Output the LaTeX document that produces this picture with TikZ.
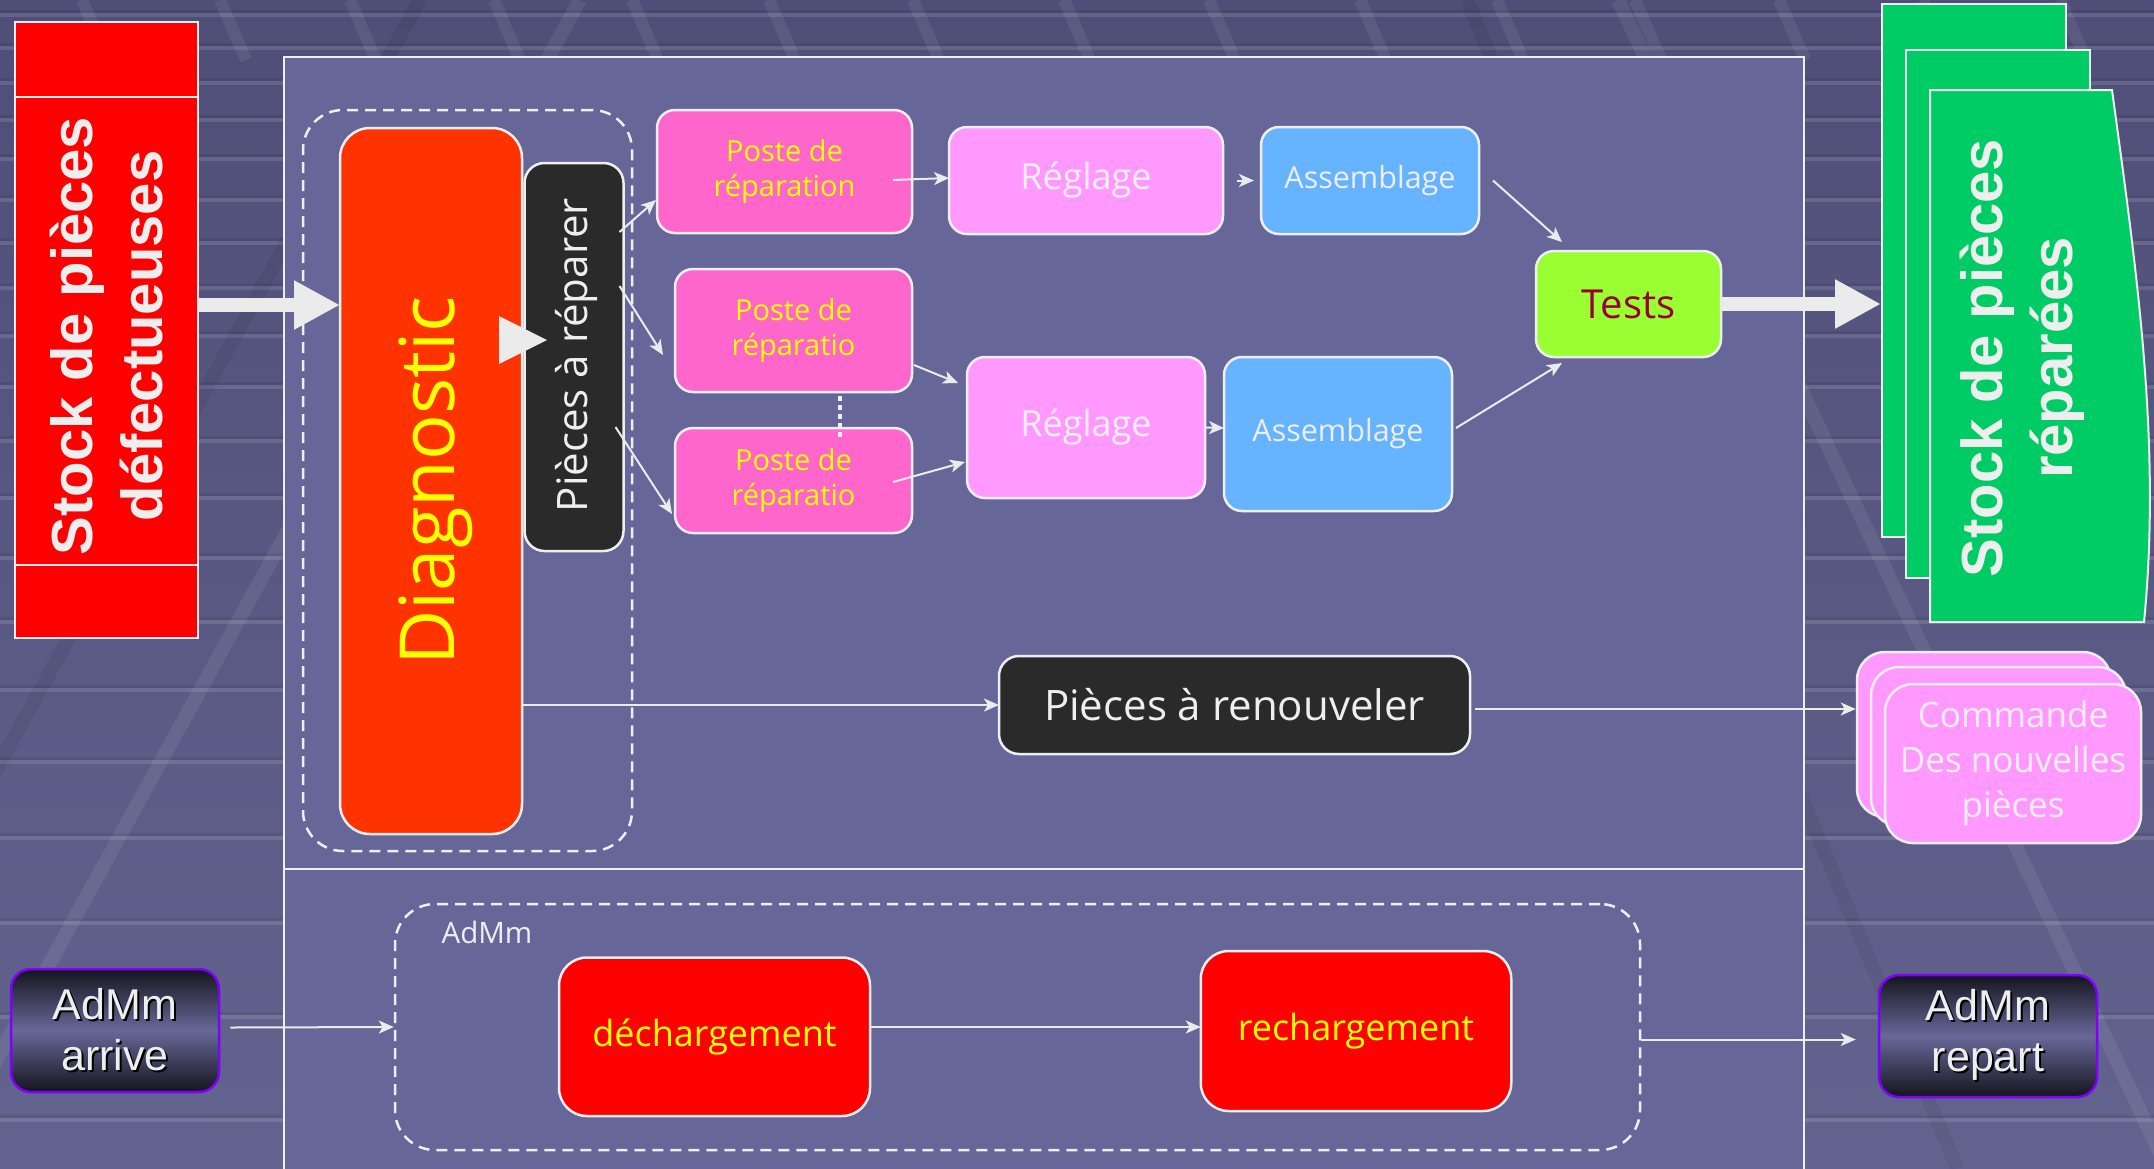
\documentclass[tikz,border=0pt]{standalone}
\usepackage{fontspec}
\setmainfont{Open Sans}
\newfontfamily\arialfont{Liberation Sans}
\usetikzlibrary{arrows.meta,calc}

\definecolor{bgtop}{HTML}{4E4E78}
\definecolor{bgbot}{HTML}{63638F}
\definecolor{panelc}{HTML}{666699}
\definecolor{edge}{HTML}{EEEEEE}
\definecolor{arrowc}{HTML}{EBEBEB}
\definecolor{stockred}{HTML}{FF0000}
\definecolor{diagc}{HTML}{FF3300}
\definecolor{postec}{HTML}{FF66CC}
\definecolor{reglc}{HTML}{FF99FF}
\definecolor{assc}{HTML}{66B3FF}
\definecolor{testc}{HTML}{99FF33}
\definecolor{testtxt}{HTML}{990033}
\definecolor{greenc}{HTML}{00CC66}
\definecolor{darkc}{HTML}{2A2A2A}
\definecolor{yellowc}{HTML}{FFFF00}
\definecolor{admmedge}{HTML}{8000FF}
\definecolor{admmdark}{HTML}{14141E}
\definecolor{admmmid}{HTML}{686899}

\newcommand{\fsz}[2]{\fontsize{#1pt}{#2pt}\selectfont}

\begin{document}
\begin{tikzpicture}[x=1pt, y=-1pt,
  box/.style={draw=edge, line width=2.5pt, inner sep=0pt, outer sep=0pt,
              align=center, rounded corners=#1},
  box/.default=18pt,
  grp/.style={draw=edge, line width=2.5pt, dash pattern=on 11pt off 7pt,
              rounded corners=40pt, inner sep=0pt},
  conn/.style={draw=arrowc, line width=2pt,
               -{Stealth[length=15pt,width=13pt,inset=4pt]}},
  bigarrow/.style={draw=arrowc, line width=14pt,
                   -{Triangle[length=46pt,width=46pt]}},
  page/.style={draw=edge, line width=2pt, fill=greenc, inner sep=0pt},
  cmd/.style={draw=edge, line width=2.5pt, fill=reglc, rounded corners=28pt, inner sep=0pt},
  admm/.style={draw=admmedge, line width=2.5pt, rounded corners=20pt, inner sep=0pt,
               top color=admmdark, bottom color=admmdark, middle color=admmmid},
  admmtxt/.style={font=\arialfont\fsz{43}{51}, align=center},
]
\useasboundingbox (0,0) rectangle (2154,1168);

% ---------- textured backdrop
\shade[top color=bgtop, bottom color=bgbot] (0,0) rectangle (2154,1168);
\foreach \yy in {15,48,83,120,159,200,243,288,336,387,441,498,558,622,690,762,838,923,1017,1120}{
  \draw[black, opacity=0.08, line width=3pt] (0,\yy-4) -- (2154,\yy-4);
  \draw[white, opacity=0.12, line width=4pt] (0,\yy) -- (2154,\yy);
}
\foreach \xx in {82,220,350,494,632,769,913,1064,1209,1360,1497,1635,1779,1923,2060}{
  \draw[white, opacity=0.07, line width=12pt] (\xx,0) -- (\xx+26,60);
}
\draw[white, opacity=0.07, line width=14pt] (580,0) -- (-63,1168);
\draw[black, opacity=0.06, line width=14pt] (420,0) -- (-223,1168);
\draw[black, opacity=0.06, line width=14pt] (1467,0) -- (1957,1168);
\draw[white, opacity=0.07, line width=14pt] (1618,0) -- (2167,1168);

% ---------- main panel
\draw[fill=panelc, draw=edge, line width=2.5pt] (284,57) rectangle (1804,1180);
\draw[edge, line width=2.5pt] (284,869) -- (1804,869);

% ---------- incoming stock
\node[draw=edge, line width=2pt, fill=stockred, minimum width=183pt, minimum height=616pt,
      inner sep=0pt] (stockL) at (106.5,330) {};
\coordinate (lineA) at (0,96.5);
\coordinate (lineB) at (0,564.7);
\draw[edge, line width=2pt] (stockL.west |- lineA) -- (stockL.east |- lineA);
\draw[edge, line width=2pt] (stockL.west |- lineB) -- (stockL.east |- lineB);
\node[rotate=90, text=edge, align=center, font=\arialfont\bfseries\fsz{58}{70}]
      (stockLt) at (107,336) {Stock de pièces\\défectueuses};

% ---------- diagnostic block
\node[grp, minimum width=329pt, minimum height=741pt] (grpDiag) at (467.5,480.5) {};
\node[box=30pt, fill=diagc, minimum width=182pt, minimum height=706pt] (diag) at (431,481) {};
\node[rotate=90, text=yellowc, font=\fsz{76}{90}] (diagT) at (436,481) {Diagnostic};

\node[box=20pt, fill=darkc, minimum width=99pt, minimum height=388pt] (pr) at (574,357) {};
\node[rotate=90, text=edge, font=\fsz{42}{50}] (prT) at (576,355) {Pièces à réparer};
\fill[arrowc] ($(pr.west)+(-25.5,-41)$) -- ($(pr.west)+(22.5,-17)$)
              -- ($(pr.west)+(-25.5,7)$) -- cycle;

% ---------- repair stations
\node[box, fill=postec, minimum width=255pt, minimum height=123pt, text=yellowc,
      font=\fsz{29}{35}] (postA) at (784.5,171.5) {Poste de\\réparation};
\node[box, fill=postec, minimum width=237pt, minimum height=123pt, text=yellowc,
      font=\fsz{29}{35}] (postB) at (793.5,330.5) {Poste de\\réparatio};
\node[box, fill=postec, minimum width=237pt, minimum height=105pt, text=yellowc,
      font=\fsz{29}{35}] (postC) at (793.5,480.5) {Poste de\\réparatio};
\draw[edge, line width=4pt, dash pattern=on 5pt off 4pt]
      ($(postB.south)+(46.5,4)$) -- ($(postC.north)+(46.5,10)$);

\node[box, fill=reglc, minimum width=274pt, minimum height=107pt, text=edge,
      font=\fsz{36}{42}] (R1) at (1086,180.5) {Réglage};
\node[box, fill=reglc, minimum width=238pt, minimum height=141pt, text=edge,
      font=\fsz{36}{42}] (R2) at (1086,427.5) {Réglage};
\node[box, fill=assc, minimum width=218pt, minimum height=107pt, text=edge,
      font=\fsz{30.5}{36}] (A1) at (1370,180.5) {Assemblage};
\node[box, fill=assc, minimum width=228pt, minimum height=154pt, text=edge,
      font=\fsz{30.5}{36}] (A2) at (1338,434) {Assemblage};
\node[box, fill=testc, minimum width=185pt, minimum height=106pt, text=testtxt,
      font=\fsz{40}{46}] (tests) at (1628.5,304) {Tests};

\node[box=20pt, fill=darkc, minimum width=471pt, minimum height=98pt, text=edge,
      font=\fsz{42}{50}] (piecesRen) at (1234.5,705) {Pièces à renouveler};

% ---------- repaired stock (stacked sheets)
\node[page, minimum width=184pt, minimum height=533pt] (stockR) at (1974,270.5) {};
\node[page, minimum width=184pt, minimum height=528pt] (stockR2) at (1998,314) {};
\filldraw[draw=edge, line width=2pt, fill=greenc]
  (1930,90) -- (2112,90) .. controls (2135,260) and (2162,440) .. (2144,622)
  -- (1930,622) -- cycle;
\node[rotate=90, text=edge, align=center, font=\arialfont\bfseries\fsz{58}{70}]
      (stockRt) at (2022,358) {Stock de pièces\\réparées};

% ---------- new parts order (stacked)
\node[cmd, minimum width=254pt, minimum height=165pt] (cmdA) at (1984,734.5) {};
\node[cmd, minimum width=255pt, minimum height=159pt] (cmdB) at (1998.5,746.5) {};
\node[cmd, minimum width=256pt, minimum height=159pt, text=edge, align=center,
      font=\fsz{35}{45}] (cmdC) at (2013,763.5) {Commande\\Des nouvelles\\pièces};

% ---------- lower lane
\node[grp, minimum width=1245pt, minimum height=246pt] (grpAdMm) at (1017.5,1027) {};
\node[text=edge, font=\fsz{29.5}{35}] (grpLabel) at (487,932) {AdMm};
\node[box=28pt, fill=stockred, minimum width=311pt, minimum height=158.5pt, text=yellowc,
      font=\fsz{36}{42}] (decharge) at (714.5,1036.75) {déchargement};
\node[box=28pt, fill=stockred, minimum width=310.5pt, minimum height=160pt, text=yellowc,
      font=\fsz{36}{42}] (recharge) at (1356,1031) {rechargement};

\node[admm, minimum width=208pt, minimum height=123pt] (arrive) at (115,1030.5) {};
\node[admmtxt, text=black] (arriveSh) at (117,1031.5) {AdMm\\arrive};
\node[admmtxt, text=edge] (arriveT) at (115,1029.5) {AdMm\\arrive};
\node[admm, minimum width=218pt, minimum height=122pt] (repart) at (1988,1036) {};
\node[admmtxt, text=black] (repartSh) at (1990,1037) {AdMm\\repart};
\node[admmtxt, text=edge] (repartT) at (1988,1035) {AdMm\\repart};

% ---------- connectors
\coordinate (inL) at (0,305);
\draw[bigarrow] (stockL.east |- inL) -- (diag.west |- inL);
\draw[bigarrow] (tests.east) -- (stockR.west |- tests.east);

\draw[conn] ($(pr.east)+(-4,-125)$) -- ($(postA.west)+(-1,28.5)$);
\draw[conn] ($(pr.east)+(-4,-71)$) -- ($(postB.west)+(-12,24.5)$);
\draw[conn] ($(pr.east)+(-8,70)$) -- ($(postC.west)+(-3,33.5)$);

\draw[conn] ($(postA.east)+(-19,8.5)$) -- ($(R1.west)+(0,-2.5)$);
\draw[conn] ($(R1.east)+(14,0)$) -- ($(A1.west)+(-7,0)$);
\draw[conn] ($(A1.east)+(14,0)$) -- ($(tests.north west)+(26,-9)$);
\draw[conn] ($(postB.east)+(2,34.5)$) -- ($(R2.west)+(-9,-44.5)$);
\draw[conn] ($(postC.east)+(-19,1.5)$) -- ($(R2.west)+(-2,34.5)$);
\draw[conn] (R2.east) -- ($(A2.west)+(0,-6)$);
\draw[conn] ($(A2.east)+(4,-6)$) -- ($(tests.south west)+(26,6)$);

\draw[conn] (diag.east |- piecesRen.west) -- (piecesRen.west);
\draw[conn] ($(piecesRen.east)+(5,4)$) -- ($(cmdA.west)+(0,-25.5)$);

\draw[conn] ($(arrive.east)+(10,-3)$) -- (grpAdMm.west);
\draw[conn] (decharge.east |- grpAdMm.west) -- (recharge.west |- grpAdMm.west);
\draw[conn] ($(grpAdMm.east)+(0,12.5)$) -- ($(repart.west)+(-22,3.5)$);
\end{tikzpicture}
\end{document}
